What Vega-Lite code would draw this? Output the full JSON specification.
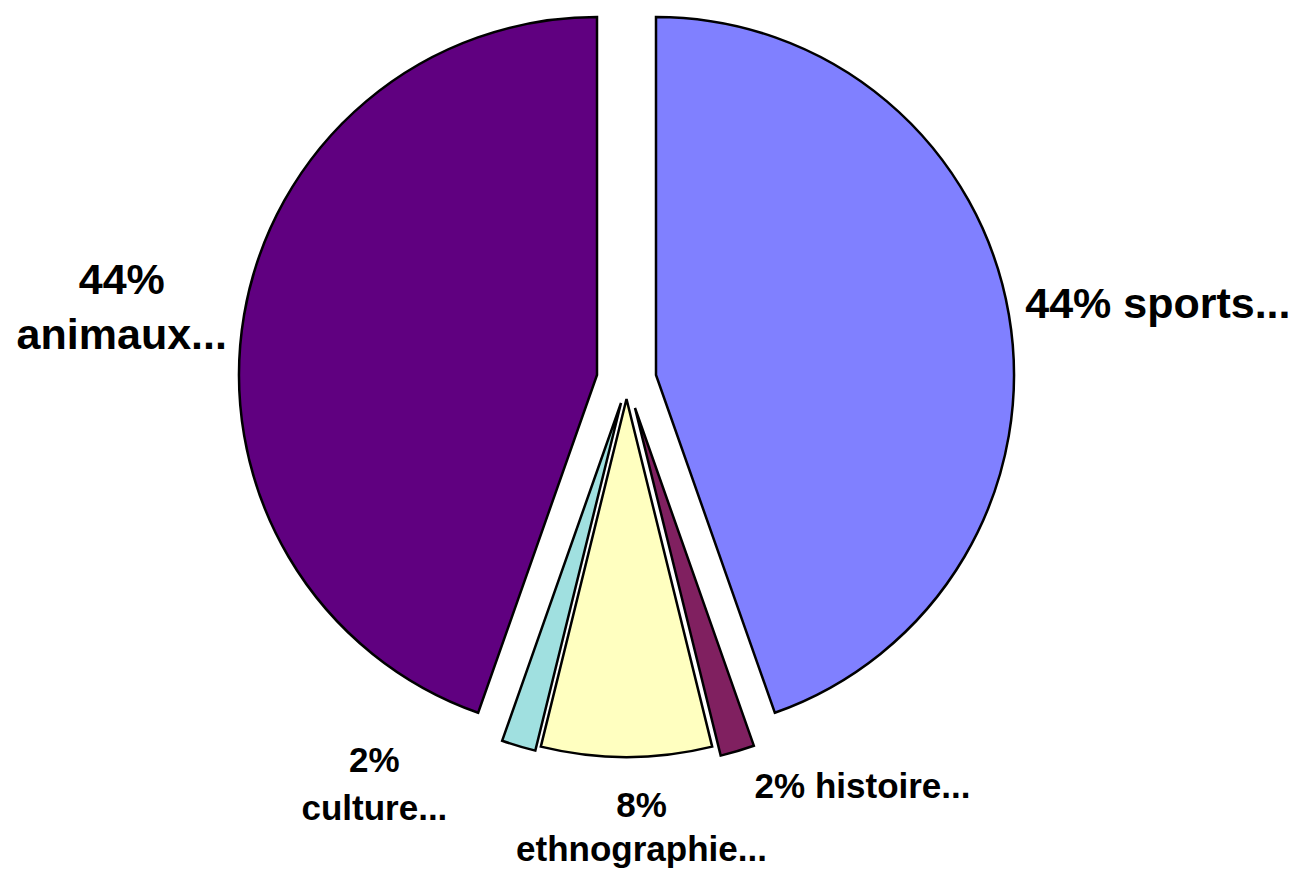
{
  "$schema": "https://vega.github.io/schema/vega-lite/v6.json",
  "width": 1253,
  "height": 760,
  "autosize": {"type": "none"},
  "padding": {"left": 0, "top": 0, "right": 49, "bottom": 120},
  "background": "white",
  "view": {"stroke": null},
  "config": {"text": {"font": "Liberation Sans", "fontWeight": "bold", "color": "black"}},
  "data": {"values": [
    {"category": "sports", "count": 29, "label": "44% sports..."},
    {"category": "histoire", "count": 1, "label": "2% histoire..."},
    {"category": "ethnographie", "count": 5, "label": "8%\nethnographie..."},
    {"category": "culture", "count": 1, "label": "2%\nculture..."},
    {"category": "animaux", "count": 29, "label": "44%\nanimaux..."}
  ]},
  "transform": [
    {"window": [{"op": "sum", "field": "count", "as": "v1"}], "frame": [null, 0]},
    {"calculate": "datum.v1 - datum.count", "as": "v0"},
    {"calculate": "(datum.v0 + datum.v1) / 2", "as": "mid"}
  ],
  "encoding": {
    "color": {"field": "category", "type": "nominal", "legend": null,
      "scale": {"domain": ["sports", "histoire", "ethnographie", "culture", "animaux"],
                "range": ["#8080FF", "#802060", "#FFFFC0", "#A0E0E0", "#600080"]}}
  },
  "layer": [
    {"transform": [{"filter": "datum.category == 'sports'"}],
     "mark": {"type": "arc", "radius": 358, "stroke": "black", "strokeWidth": 2.5, "xOffset": 29.5, "yOffset": -5},
     "encoding": {"theta": {"field": "v0", "type": "quantitative", "scale": {"domain": [0, 65]}}, "theta2": {"field": "v1"}}},
    {"transform": [{"filter": "datum.category == 'histoire'"}],
     "mark": {"type": "arc", "radius": 358, "stroke": "black", "strokeWidth": 2.5, "xOffset": 8.5, "yOffset": 28},
     "encoding": {"theta": {"field": "v0", "type": "quantitative", "scale": {"domain": [0, 65]}}, "theta2": {"field": "v1"}}},
    {"transform": [{"filter": "datum.category == 'ethnographie'"}],
     "mark": {"type": "arc", "radius": 358, "stroke": "black", "strokeWidth": 2.5, "xOffset": 0, "yOffset": 19},
     "encoding": {"theta": {"field": "v0", "type": "quantitative", "scale": {"domain": [0, 65]}}, "theta2": {"field": "v1"}}},
    {"transform": [{"filter": "datum.category == 'culture'"}],
     "mark": {"type": "arc", "radius": 358, "stroke": "black", "strokeWidth": 2.5, "xOffset": -5.5, "yOffset": 23},
     "encoding": {"theta": {"field": "v0", "type": "quantitative", "scale": {"domain": [0, 65]}}, "theta2": {"field": "v1"}}},
    {"transform": [{"filter": "datum.category == 'animaux'"}],
     "mark": {"type": "arc", "radius": 358, "stroke": "black", "strokeWidth": 2.5, "xOffset": -29.5, "yOffset": -5},
     "encoding": {"theta": {"field": "v0", "type": "quantitative", "scale": {"domain": [0, 65]}}, "theta2": {"field": "v1"}}},
    {"transform": [{"filter": "datum.category == 'sports'"}],
     "mark": {"type": "text", "radius": 536, "fontSize": 43, "align": "center", "baseline": "middle", "dx": 3, "dy": 15},
     "encoding": {"theta": {"field": "mid", "type": "quantitative", "scale": {"domain": [0, 65]}}, "text": {"field": "label"}, "color": {"value": "black"}}},
    {"transform": [{"filter": "datum.category == 'animaux'"}],
     "mark": {"type": "text", "radius": 509, "fontSize": 43, "lineHeight": 55, "lineBreak": "\n", "align": "center", "baseline": "middle", "dx": -3, "dy": -13},
     "encoding": {"theta": {"field": "mid", "type": "quantitative", "scale": {"domain": [0, 65]}}, "text": {"field": "label"}, "color": {"value": "black"}}},
    {"transform": [{"filter": "datum.category == 'histoire'"}],
     "mark": {"type": "text", "radius": 427, "fontSize": 35, "align": "left", "baseline": "middle", "dx": 6, "dy": -2},
     "encoding": {"theta": {"field": "mid", "type": "quantitative", "scale": {"domain": [0, 65]}}, "text": {"field": "label"}, "color": {"value": "black"}}},
    {"transform": [{"filter": "datum.category == 'ethnographie'"}],
     "mark": {"type": "text", "radius": 448, "fontSize": 35, "lineHeight": 44, "lineBreak": "\n", "align": "center", "baseline": "middle", "dx": 15, "dy": -22},
     "encoding": {"theta": {"field": "mid", "type": "quantitative", "scale": {"domain": [0, 65]}}, "text": {"field": "label"}, "color": {"value": "black"}}},
    {"transform": [{"filter": "datum.category == 'culture'"}],
     "mark": {"type": "text", "radius": 420, "fontSize": 35, "lineHeight": 48, "lineBreak": "\n", "align": "center", "baseline": "middle", "dx": -132, "dy": -21},
     "encoding": {"theta": {"field": "mid", "type": "quantitative", "scale": {"domain": [0, 65]}}, "text": {"field": "label"}, "color": {"value": "black"}}}
  ]
}
